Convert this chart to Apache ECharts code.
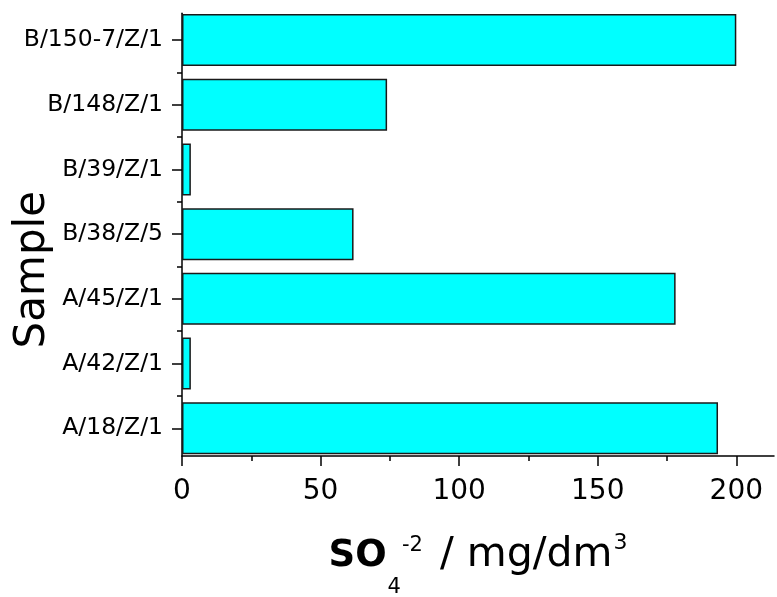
<!DOCTYPE html>
<html><head><meta charset="utf-8">
<script src="https://cdn.jsdelivr.net/npm/echarts@6/dist/echarts.min.js"></script>
<style>html,body{margin:0;padding:0;background:#fff}#c{width:777px;height:597px}</style>
</head><body><div id="c"></div>
<script>
// categories listed top to bottom as in the picture
const categories = ['B/150-7/Z/1', 'B/148/Z/1', 'B/39/Z/1', 'B/38/Z/5', 'A/45/Z/1', 'A/42/Z/1', 'A/18/Z/1'];
const so4Values = [200, 74.0, 3.2, 61.9, 178.1, 3.2, 193.4];
const xTicks = [0, 50, 100, 150, 200];
const xMinorTicks = [25, 75, 125, 175];
const categoryPositions = [1, 2, 3, 4, 5, 6, 7];
const categoryBoundaries = [1.5, 2.5, 3.5, 4.5, 5.5, 6.5];

const FONT = 'DejaVu Sans';
const X_MAX = 213.6;
const Y_MIN = 0.5875, Y_MAX = 7.428;
const axisLineStyle = { color: '#000', width: 1.5 };

const chart = echarts.init(document.getElementById('c'), null, { renderer: 'canvas' });
chart.setOption({
  backgroundColor: '#fff',
  animation: false,
  grid: [
    { left: 182, right: 3, top: 7.65, bottom: 136.35, containLabel: false, outerBoundsMode: 'none' },
    { left: 182, right: 3, top: 13.3, bottom: 141, containLabel: false, outerBoundsMode: 'none' }
  ],
  xAxis: [
    { gridIndex: 0, type: 'value', min: 0, max: X_MAX, show: false },
    {
      gridIndex: 1, type: 'value', min: 0, max: X_MAX, position: 'bottom',
      axisLine: { show: true, lineStyle: axisLineStyle },
      axisTick: { show: true, customValues: xTicks, length: 10, inside: false, lineStyle: axisLineStyle },
      axisLabel: { show: true, customValues: xTicks, margin: 22, fontFamily: FONT, fontSize: 28, color: '#000' },
      splitLine: { show: false },
      name: '{b|SO}{sub|4}{sup|-2}{n| / mg/dm}{sup3|3}',
      nameLocation: 'middle',
      nameGap: 76,
      nameMoveOverlap: false,
      nameTextStyle: {
        color: '#000', fontFamily: FONT,
        rich: {
          b: { fontFamily: FONT, fontWeight: 'bold', fontSize: 37, color: '#000', verticalAlign: 'top', padding: [6, 0, 0, 0] },
          sub: { fontFamily: FONT, fontSize: 21, color: '#000', verticalAlign: 'top', padding: [45, 1, 0, 1] },
          sup: { fontFamily: FONT, fontSize: 21, color: '#000', verticalAlign: 'top', padding: [3.5, 4, 0, 0] },
          n: { fontFamily: FONT, fontSize: 41, color: '#000', verticalAlign: 'top', padding: [2.5, 0, 0, 0] },
          sup3: { fontFamily: FONT, fontSize: 22, color: '#000', verticalAlign: 'top', padding: [0, 0, 0, 1] }
        }
      }
    },
    {
      gridIndex: 1, type: 'value', min: 0, max: X_MAX, position: 'bottom',
      axisLine: { show: false },
      axisTick: { show: true, customValues: xMinorTicks, length: 5, inside: false, lineStyle: axisLineStyle },
      axisLabel: { show: false },
      splitLine: { show: false }
    }
  ],
  yAxis: [
    { gridIndex: 0, type: 'category', data: categories, inverse: true, show: false },
    {
      gridIndex: 1, type: 'value', min: Y_MIN, max: Y_MAX, inverse: true, position: 'left',
      axisLine: { show: true, lineStyle: axisLineStyle },
      axisTick: { show: true, customValues: categoryPositions, length: 10, inside: false, lineStyle: axisLineStyle },
      axisLabel: {
        show: true, customValues: categoryPositions, margin: 19,
        fontFamily: FONT, fontSize: 23.5, color: '#000',
        formatter: v => categories[Math.round(v) - 1]
      },
      splitLine: { show: false },
      name: 'Sample',
      nameLocation: 'middle',
      nameGap: 128,
      nameMoveOverlap: false,
      nameTextStyle: { fontFamily: FONT, fontSize: 42, color: '#000', padding: [0, 70, 0, 0] }
    },
    {
      gridIndex: 1, type: 'value', min: Y_MIN, max: Y_MAX, inverse: true, position: 'left',
      axisLine: { show: false },
      axisTick: { show: true, customValues: categoryBoundaries, length: 5, inside: false, lineStyle: axisLineStyle },
      axisLabel: { show: false },
      splitLine: { show: false }
    }
  ],
  series: [{
    type: 'bar',
    xAxisIndex: 0, yAxisIndex: 0,
    data: so4Values,
    barWidth: 52,
    itemStyle: { color: '#00FFFF', borderColor: '#1a1a1a', borderWidth: 1.5 }
  }]
});
</script></body></html>
